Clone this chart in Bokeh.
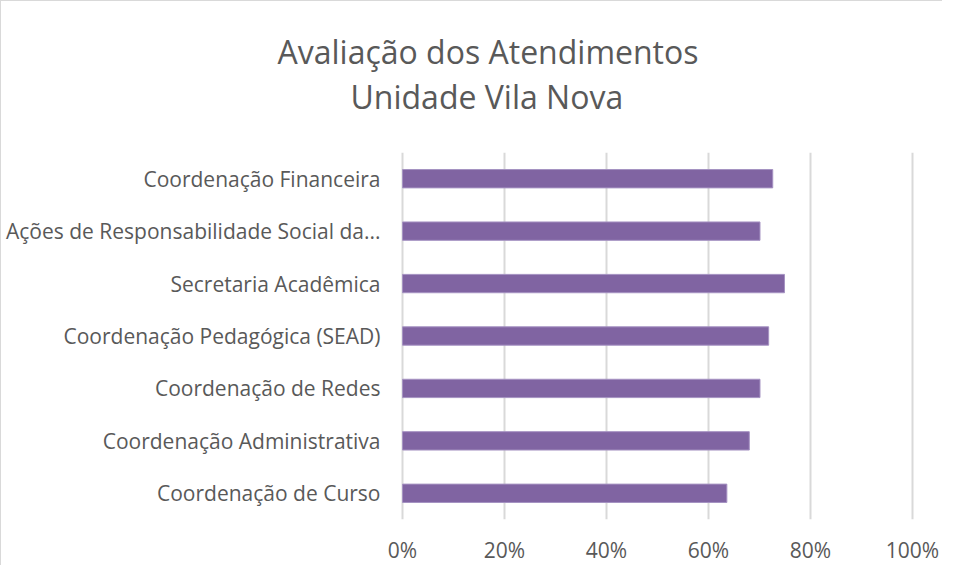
from bokeh.plotting import figure
from bokeh.models import Range1d, FactorRange, NumeralTickFormatter, FixedTicker, Title, ColumnDataSource
from bokeh.embed import file_html
from bokeh.resources import INLINE

categories = [
    "Coordenação Financeira",
    "Ações de Responsabilidade Social da...",
    "Secretaria Acadêmica",
    "Coordenação Pedagógica (SEAD)",
    "Coordenação de Redes",
    "Coordenação Administrativa",
    "Coordenação de Curso",
]
values = [0.726, 0.701, 0.749, 0.718, 0.701, 0.680, 0.636]
x_ticks = [0, 0.2, 0.4, 0.6, 0.8, 1.0]

FONT = "Open Sans"
GREY = "#595959"

order = list(reversed(categories))
src = ColumnDataSource(dict(cat=categories, val=values))

p = figure(width=942, height=565, output_backend="svg", toolbar_location=None,
           y_range=FactorRange(*order, range_padding=0), x_range=Range1d(-0.004, 1.004),
           min_border_left=399, min_border_right=29, min_border_bottom=43, min_border_top=151)

p.hbar(y="cat", right="val", left=0, height=0.35, source=src,
       fill_color="#8064A2", line_color="#A592C2", line_width=1)

spacer = Title(text=" ", align="left", text_font=FONT, text_font_size="1px",
               text_color="white", standoff=32)
sub = Title(text="Unidade Vila Nova", align="left", offset=-50,
            text_font=FONT, text_font_size="32px", text_font_style="normal",
            text_color=GREY, standoff=0)
main = Title(text="Avaliação dos Atendimentos", align="left", offset=-123,
             text_font=FONT, text_font_size="32px", text_font_style="normal",
             text_color=GREY, standoff=0)
p.add_layout(spacer, "above")
p.add_layout(sub, "above")
p.add_layout(main, "above")

p.xaxis.ticker = FixedTicker(ticks=x_ticks)
p.xaxis.formatter = NumeralTickFormatter(format="0%")
p.xaxis.axis_line_color = None
p.xaxis.major_tick_line_color = None
p.xaxis.major_tick_out = 0
p.xaxis.minor_tick_line_color = None
p.xaxis.major_label_text_font = FONT
p.xaxis.major_label_text_font_size = "21px"
p.xaxis.major_label_text_color = GREY
p.xaxis.major_label_standoff = 16

p.yaxis.axis_line_color = None
p.yaxis.major_tick_line_color = None
p.yaxis.major_tick_out = 0
p.yaxis.major_label_text_font = FONT
p.yaxis.major_label_text_font_size = "21px"
p.yaxis.major_label_text_color = GREY
p.yaxis.major_label_standoff = 20

p.ygrid.grid_line_color = None
p.xgrid.grid_line_color = "#D9D9D9"
p.xgrid.grid_line_width = 2
p.outline_line_color = None
p.border_fill_color = "white"
p.styles = {"border-left": "1px solid #D9D9D9", "border-top": "1px solid #D9D9D9"}

open("out.html", "w").write(file_html(p, INLINE))
